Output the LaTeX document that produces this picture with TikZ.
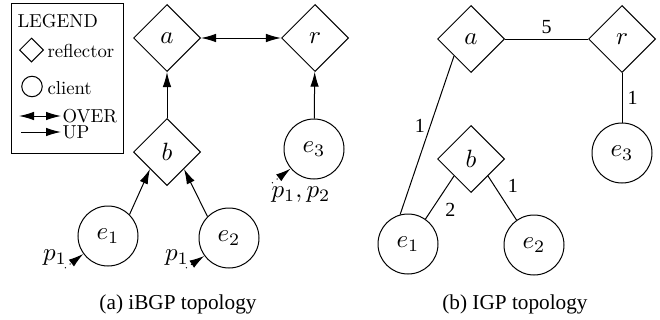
\documentclass[tikz,border=0pt]{standalone}
\usepackage{fontspec}
\newfontfamily\capfont{Liberation Serif}
\newfontfamily\legfont{lmroman10-regular}[Extension=.otf]
\usetikzlibrary{shapes.geometric,arrows.meta}
\begin{document}
\begin{tikzpicture}[x=0.4pt,y=-0.4pt,
  refl/.style={draw, diamond, aspect=1, minimum size=26.8pt, inner sep=0pt, font=\fontsize{10}{12}\selectfont},
  cli/.style={draw, circle, minimum size=24pt, inner sep=0pt, font=\fontsize{10}{12}\selectfont},
  arr/.style={-{Latex[length=6pt,width=3.4pt]}},
  darr/.style={{Latex[length=6pt,width=3.4pt]}-{Latex[length=6pt,width=3.4pt]}},
  parr/.style={dotted, -{Latex[length=6pt,width=3.4pt]}},
  leg/.style={font=\legfont\fontsize{7.5}{8}\selectfont, inner sep=0pt, anchor=west},
  wt/.style={font=\capfont\fontsize{8}{9}\selectfont, inner sep=2pt},
  plab/.style={font=\fontsize{10}{12}\selectfont, inner sep=0pt},
  captext/.style={font=\capfont\fontsize{8.5}{10}\selectfont, inner sep=0pt}
]
\useasboundingbox (0,0) rectangle (660,320);
% legend
\node[draw, minimum width=44.4pt, minimum height=59.6pt, inner sep=0pt] (legbox) at (67.5,78.5) {};
\node[leg] (legt) at (17,21) {LEGEND};
\node[draw, diamond, aspect=1, minimum size=9.6pt, inner sep=0pt] (legd) at (31.5,50) {};
\node[leg] (legr) at (47,51) {reflector};
\node[draw, circle, minimum size=8.2pt, inner sep=0pt] (legc) at (32,86.5) {};
\node[leg] (legcl) at (47,88) {client};
\coordinate (o1) at (19,116);
\coordinate (o2) at (61,116);
\draw[darr] (o1) -- (o2);
\node[leg] (lego) at (62,116) {OVER};
\coordinate (u1) at (21,132);
\coordinate (u2) at (61,132);
\draw[arr] (u1) -- (u2);
\node[leg] (legu) at (62,132) {UP};
% (a) iBGP
\node[refl] (a1) at (167,38) {$a$};
\node[refl] (r1) at (315,38) {$r$};
\node[refl] (b1) at (167,152) {$b$};
\node[cli] (e11) at (108,236) {$e_1$};
\node[cli] (e21) at (229,238) {$e_2$};
\node[cli] (e31) at (314,149) {$e_3$};
\draw[darr] (a1) -- (r1);
\draw[arr] (b1) -- (a1);
\draw[arr] (e31) -- (r1);
\draw[arr] (e11.north east) -- (b1.south west);
\draw[arr] (e21.north west) -- (b1.south east);
\coordinate (t1) at (65,268);
\draw[parr] (t1) -- (e11.216);
\node[plab] (lp1) at (55,258) {$p_1$};
\coordinate (t2) at (186,268);
\draw[parr] (t2) -- (e21.216);
\node[plab] (lp2) at (177,258) {$p_1$};
\coordinate (t3) at (272,183);
\draw[parr] (t3) -- (e31.220);
\node[plab] (lp3) at (301,195) {$p_1, p_2$};
% (b) IGP
\node[refl] (a2) at (471,39) {$a$};
\node[refl] (r2) at (622,39) {$r$};
\node[refl] (b2) at (471,159) {$b$};
\node[cli] (e12) at (408,244) {$e_1$};
\node[cli] (e22) at (534,245) {$e_2$};
\node[cli] (e32) at (622,153) {$e_3$};
\draw (a2) -- node[wt, above] {5} (r2);
\draw (r2) -- node[wt, right] {1} (e32);
\draw (a2.south west) -- node[wt, left, pos=0.44] {1} (e12.105);
\draw (b2.south west) -- node[wt, below right] {2} (e12.55);
\draw (b2.south east) -- node[wt, above right] {1} (e22.125);
% captions
\node[captext] (capa) at (178,304) {(a) iBGP topology};
\node[captext] (capb) at (515,304) {(b) IGP topology};
\end{tikzpicture}
\end{document}
